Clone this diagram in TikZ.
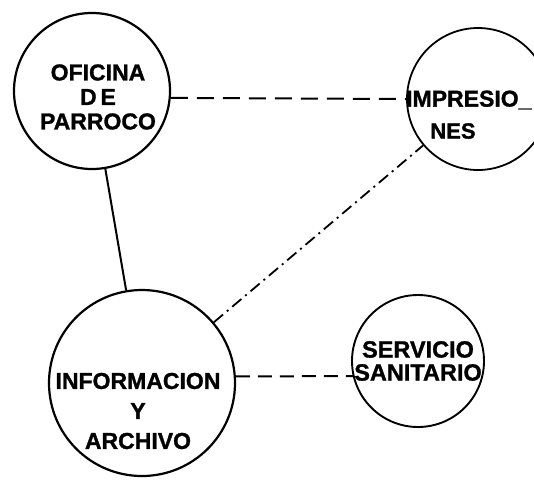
\documentclass[tikz,border=0pt]{standalone}
\usepackage{fontspec}
\setmainfont{Liberation Sans}[BoldFeatures={FakeBold=1.2}]
\begin{document}
\begin{tikzpicture}[x=1pt,y=-1pt,
  room/.style={draw,circle,line width=2.2pt,inner sep=0pt},
  lbl/.style={font=\bfseries,align=center,inner sep=0pt},
  link/.style={line width=2pt},
  dashlink/.style={line width=2pt,dash pattern=on 17pt off 9pt},
  dashdotlink/.style={line width=1.8pt,dash pattern=on 12pt off 5pt on 2pt off 5pt}]
\useasboundingbox (0,0) rectangle (534,480);
\clip (0,0) rectangle (534,480);
\node[room,minimum size=156pt] (of) at (92,91) {};
\node[room,minimum size=142pt,line width=1.8pt] (imp) at (478,99) {};
\node[room,minimum size=186pt] (inf) at (142,383) {};
\node[room,minimum size=132pt,line width=1.9pt] (ser) at (418,361) {};
\node[lbl,font=\bfseries\fontsize{23}{24.5}\selectfont] (oft) at (98,97) {OFICINA\\D\,E\\PARROCO};
\node[lbl,font=\bfseries\fontsize{23}{30}\selectfont] (inft) at (138,411) {INFORMACION\\Y\\ARCHIVO};
\node[lbl,font=\bfseries\fontsize{23}{24}\selectfont,anchor=west] (impa) at (406,100) {IMPRESIO\_};
\node[lbl,font=\bfseries\fontsize{22}{24}\selectfont] (impb) at (453,131) {NES};
\node[lbl,font=\bfseries\fontsize{23.5}{23}\selectfont] (sert) at (418,361) {SERVICIO\\SANITARIO};
\draw[link] (of) -- (inf);
\draw[dashlink] (of.-5) -- (imp.west);
\draw[dashdotlink] (inf) -- (imp);
\draw[dashlink,dash pattern=on 14pt off 8pt] (inf.4) -- (ser.193);
\end{tikzpicture}
\end{document}
